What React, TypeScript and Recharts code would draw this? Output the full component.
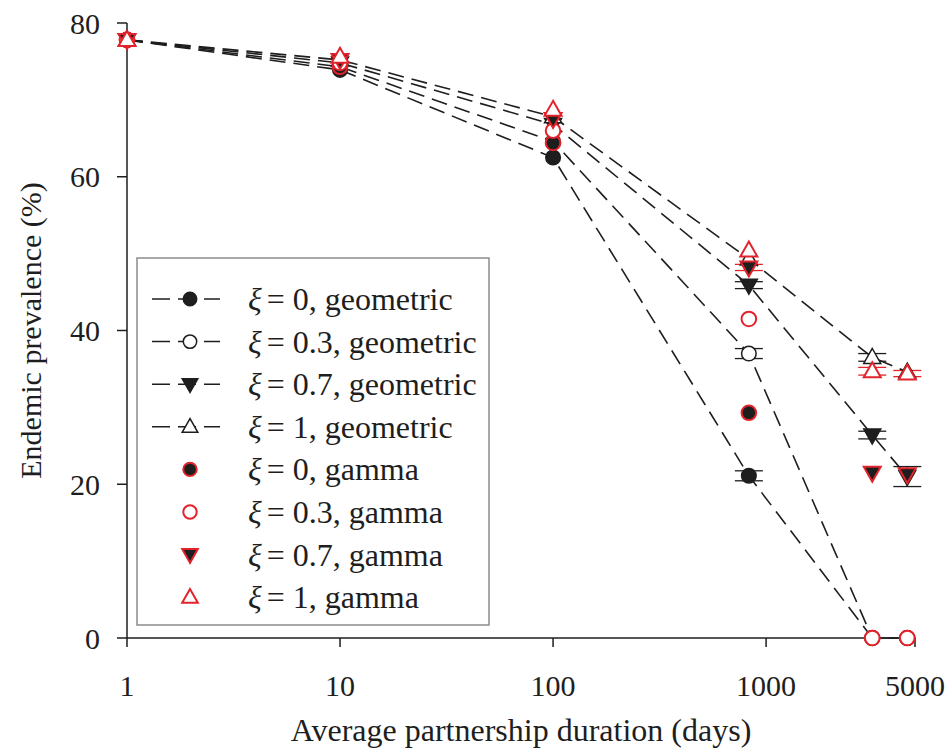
import React from 'react';
import { ScatterChart, Scatter, XAxis, YAxis, ErrorBar } from 'recharts';

// ---- data ----
const durations = [1, 10, 100, 830, 3150, 4600];

const geo0 = [77.8, 73.9, 62.5, 21.1, 0, 0];
const geo03 = [77.8, 74.3, 64.6, 37.0, 0, 0];
const geo07 = [77.8, 74.8, 66.8, 45.9, 26.4, 21.0];
const geo1 = [77.8, 75.2, 67.8, 49.3, 36.5, 34.6];

const gam0 = [77.8, 74.3, 64.4, 29.3, 0, 0];
const gam03 = [77.8, 74.8, 66.0, 41.5, 0, 0];
const gam07 = [77.8, 75.2, 67.5, 48.2, 21.5, 21.3];
const gam1 = [77.8, 75.6, 68.7, 50.4, 34.7, 34.4];

const geo0Err = [0, 0, 0, 0.65, 0, 0];
const geo03Err = [0, 0, 0, 0.65, 0, 0];
const geo07Err = [0, 0, 0, 0.45, 0.5, 1.3];
const geo1Err = [0, 0, 0, 0, 0.5, 0];
const gam07Err = [0, 0, 0, 0.4, 0, 0];
const gam1Err = [0, 0, 0, 0, 0.5, 0.4];

const xTicks = [1, 10, 100, 1000, 5000];
const yTicks = [0, 20, 40, 60, 80];

const seriesLabels = [
  '= 0, geometric',
  '= 0.3, geometric',
  '= 0.7, geometric',
  '= 1, geometric',
  '= 0, gamma',
  '= 0.3, gamma',
  '= 0.7, gamma',
  '= 1, gamma',
];

const FONT = '"Liberation Serif", "Times New Roman", serif';
const RED = '#e3232b';
const INK = '#1e1e1e';

type Kind = 'circle' | 'up' | 'down';

const build = (vals: number[], errs?: number[]) =>
  durations.map((x, i) => ({ x, y: vals[i], e: errs && errs[i] ? errs[i] : undefined }));

const series = [
  { key: 'g0', data: build(geo0, geo0Err), kind: 'circle' as Kind, fill: INK, stroke: INK, line: true, err: INK },
  { key: 'g03', data: build(geo03, geo03Err), kind: 'circle' as Kind, fill: '#fff', stroke: INK, line: true, err: INK },
  { key: 'g07', data: build(geo07, geo07Err), kind: 'down' as Kind, fill: INK, stroke: INK, line: true, err: INK },
  { key: 'g1', data: build(geo1, geo1Err), kind: 'up' as Kind, fill: '#fff', stroke: INK, line: true, err: INK },
  { key: 'm0', data: build(gam0), kind: 'circle' as Kind, fill: INK, stroke: RED, line: false, err: RED },
  { key: 'm03', data: build(gam03), kind: 'circle' as Kind, fill: '#fff', stroke: RED, line: false, err: RED },
  { key: 'm07', data: build(gam07, gam07Err), kind: 'down' as Kind, fill: INK, stroke: RED, line: false, err: RED },
  { key: 'm1', data: build(gam1, gam1Err), kind: 'up' as Kind, fill: '#fff', stroke: RED, line: false, err: RED },
];

function Marker({ kind, cx, cy, fill, stroke, size = 1 }: any) {
  const sw = stroke === RED ? 2 : 1.5;
  if (kind === 'circle') {
    return <circle cx={cx} cy={cy} r={7.3 * size} fill={fill} stroke={stroke} strokeWidth={sw} />;
  }
  const h1 = 9 * size;
  const h2 = 6 * size;
  const w = 8.5 * size;
  const pts =
    kind === 'up'
      ? `${cx},${cy - h1} ${cx - w},${cy + h2} ${cx + w},${cy + h2}`
      : `${cx},${cy + h1} ${cx - w},${cy - h2} ${cx + w},${cy - h2}`;
  return <polygon points={pts} fill={fill} stroke={stroke} strokeWidth={sw} strokeLinejoin="miter" />;
}

function LegendBox() {
  const rowH = 42.6;
  return (
    <svg
      width={354}
      height={370}
      style={{ position: 'absolute', left: 136, top: 257 }}
    >
      <rect x={1} y={1} width={352} height={367} fill="#fff" stroke="#8c8c8c" strokeWidth={1.5} />
      {series.map((s, i) => {
        const cy = 42 + i * rowH;
        return (
          <g key={s.key}>
            {s.line && (
              <line x1={16} x2={84} y1={cy} y2={cy} stroke={INK} strokeWidth={1.5} strokeDasharray="18 8" />
            )}
            <Marker kind={s.kind} cx={54} cy={cy} fill={s.fill} stroke={s.stroke} size={0.92} />
            <text x={112} y={cy + 11} fontFamily={FONT} fontSize={32} fill={INK}>
              <tspan fontStyle="italic">ξ</tspan>
              <tspan dx={5}>{seriesLabels[i]}</tspan>
            </text>
          </g>
        );
      })}
    </svg>
  );
}

export default function App() {
  const tickStyle = { fontFamily: FONT, fontSize: 30, fill: INK };
  return (
    <div style={{ position: 'absolute', left: 0, top: 0, width: 952, height: 755, background: '#fff' }}>
      <ScatterChart width={952} height={755} margin={{ top: 23, right: 37, bottom: 0, left: 0 }}>
        <XAxis
          dataKey="x"
          type="number"
          scale="log"
          domain={[1, 5000]}
          ticks={xTicks}
          height={117}
          tickSize={9}
          tickMargin={28}
          tick={tickStyle}
          axisLine={{ stroke: INK, strokeWidth: 1.5 }}
          tickLine={{ stroke: INK, strokeWidth: 1.5 }}
          label={{
            content: ({ viewBox }: any) => (
              <text
                x={viewBox.x + viewBox.width / 2}
                y={viewBox.y + 103}
                textAnchor="middle"
                fontFamily={FONT}
                fontSize={32}
                fill={INK}
              >
                Average partnership duration (days)
              </text>
            ),
          }}
        />
        <YAxis
          dataKey="y"
          type="number"
          domain={[0, 80]}
          ticks={yTicks}
          width={127}
          tickSize={10}
          tickMargin={17}
          tick={tickStyle}
          axisLine={{ stroke: INK, strokeWidth: 1.5 }}
          tickLine={{ stroke: INK, strokeWidth: 1.5 }}
          label={{
            content: ({ viewBox }: any) => {
              const x = viewBox.x + 30;
              const y = viewBox.y + viewBox.height / 2;
              return (
                <text
                  x={x}
                  y={y}
                  transform={`rotate(-90 ${x} ${y})`}
                  textAnchor="middle"
                  dominantBaseline="central"
                  fontFamily={FONT}
                  fontSize={30}
                  fill={INK}
                >
                  Endemic prevalence (%)
                </text>
              );
            },
          }}
        />
        {series.map((s) => (
          <Scatter
            key={s.key}
            data={s.data}
            dataKey="y"
            fill={s.fill}
            isAnimationActive={false}
            legendType="none"
            line={s.line ? { stroke: INK, strokeWidth: 1.6, strokeDasharray: '16 8' } : false}
            shape={(p: any) => <Marker kind={s.kind} cx={p.cx} cy={p.cy} fill={s.fill} stroke={s.stroke} />}
          >
            <ErrorBar dataKey="e" direction="y" width={14} stroke={s.err} strokeWidth={1.3} />
          </Scatter>
        ))}
      </ScatterChart>
      <LegendBox />
    </div>
  );
}
